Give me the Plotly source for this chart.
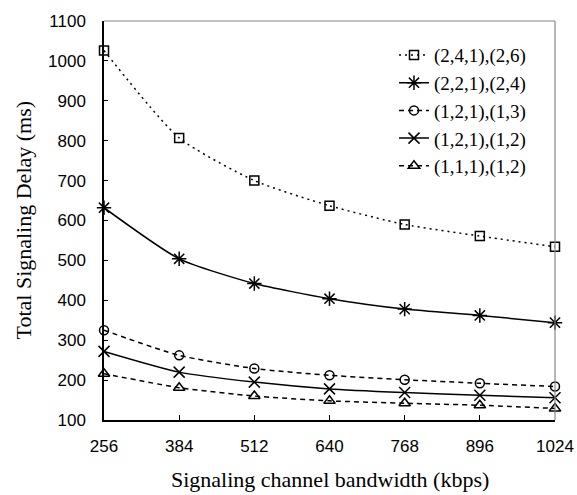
import plotly.graph_objects as go

bandwidth = [256, 384, 512, 640, 768, 896, 1024]
s241_26 = [1026, 807, 700, 637, 590, 561, 534]
s221_24 = [632, 504, 442, 404, 378, 362, 344]
s121_13 = [325, 262, 229, 212, 201, 192, 184]
s121_12 = [272, 220, 195, 178, 169, 162, 156]
s111_12 = [216, 181, 160, 148, 142, 137, 129]

names = ["(2,4,1),(2,6)", "(2,2,1),(2,4)", "(1,2,1),(1,3)", "(1,2,1),(1,2)", "(1,1,1),(1,2)"]
series = [s241_26, s221_24, s121_13, s121_12, s111_12]
symbols = ["square-open", "asterisk-open", "circle-open", "x-thin-open", "triangle-up-open"]
dashes = ["2px,4px", "solid", "5px,4px", "solid", "5px,4px"]
sizes = [9, 12, 9, 11, 10]

fig = go.Figure()
for i, (n, ys, sym, d, sz) in enumerate(zip(names, series, symbols, dashes, sizes)):
    fig.add_trace(go.Scatter(
        x=bandwidth, y=ys, name=n, mode="lines+markers",
        line=dict(color="black", width=1.5, dash=d, shape="spline", smoothing=0.6),
        marker=dict(symbol=sym, size=sz, color="black", line=dict(color="black", width=1.5)),
        cliponaxis=False,
    ))

fig.update_layout(
    width=577, height=495,
    margin=dict(l=104, r=22, t=21, b=75),
    paper_bgcolor="white", plot_bgcolor="white",
    showlegend=True,
    legend=dict(x=0.643, y=0.962, xanchor="left", yanchor="top",
                font=dict(family="Liberation Serif", size=19, color="black"),
                bgcolor="rgba(0,0,0,0)", traceorder="normal"),
    xaxis=dict(range=[256, 1024], tickvals=bandwidth, ticktext=[str(v) for v in bandwidth],
               automargin=False,
               showgrid=False, zeroline=False, showline=True, linecolor="black", linewidth=1.5,
               ticks="inside", ticklen=5, tickcolor="black", ticklabelstandoff=10,
               tickfont=dict(family="Liberation Sans", size=17, color="black")),
    yaxis=dict(range=[100, 1100], dtick=100, automargin=False,
               showgrid=False, zeroline=False, showline=True, linecolor="black", linewidth=1.5,
               ticks="inside", ticklen=4, tickcolor="black", ticklabelstandoff=13,
               tickfont=dict(family="Liberation Sans", size=17, color="black")),
    annotations=[
        dict(text="Signaling channel bandwidth (kbps)", xref="paper", yref="paper",
             x=0.5, y=-0.148, xanchor="center", yanchor="middle", showarrow=False,
             font=dict(family="Liberation Serif", size=22, color="black")),
        dict(text="Total Signaling Delay (ms)", xref="paper", yref="paper",
             x=-0.1796, y=0.5, xanchor="center", yanchor="middle", showarrow=False,
             textangle=-90,
             font=dict(family="Liberation Serif", size=22, color="black")),
    ],
)
fig.add_shape(type="line", xref="paper", yref="paper", x0=0, x1=1, y0=1, y1=1,
              line=dict(color="#888888", width=1.2))
fig.add_shape(type="line", xref="paper", yref="paper", x0=1, x1=1, y0=0, y1=1,
              line=dict(color="#888888", width=1.2))

fig.write_html("out.html")
